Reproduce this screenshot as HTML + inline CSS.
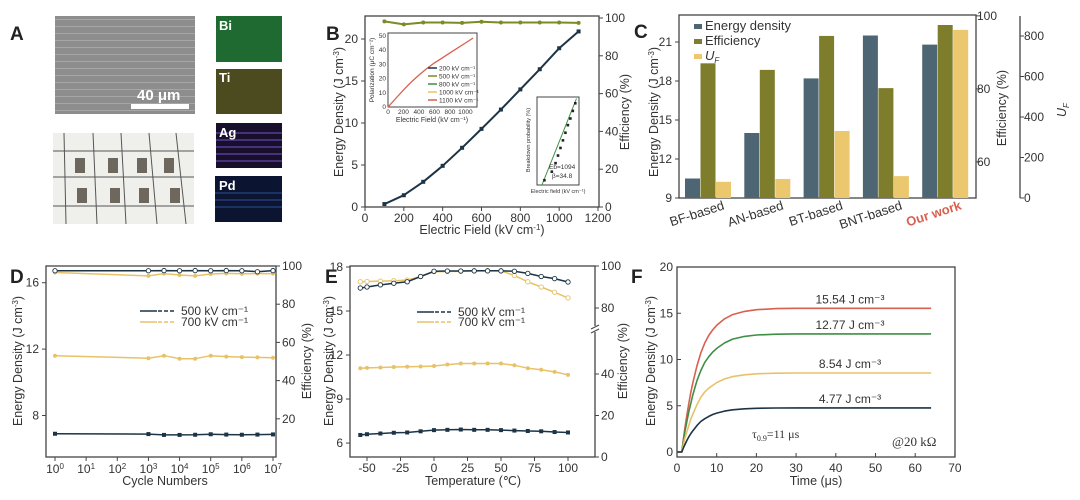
<!DOCTYPE html>
<html><head><meta charset="utf-8">
<style>
html,body{margin:0;padding:0;background:#fff;}
svg{display:block;font-family:"Liberation Sans",sans-serif;}
.at{font-size:12.5px;fill:#333;}
.pl{font-size:19px;font-weight:bold;fill:#222;}
</style></head>
<body>
<svg id="fig" width="1080" height="500" viewBox="0 0 1080 500" xmlns="http://www.w3.org/2000/svg">
<defs>
<pattern id="semlines" width="10" height="7" patternUnits="userSpaceOnUse"><rect width="10" height="7" fill="#8d8d8d"/><rect y="5" width="10" height="1" fill="#a6a6a6"/></pattern>
</defs>
<g>
<text class="pl" x="10" y="40">A</text>
<rect x="55" y="16" width="140" height="98" fill="url(#semlines)"/>
<rect x="131" y="104" width="58" height="5" fill="#fff"/>
<text x="137" y="100" font-size="15" font-weight="bold" fill="#fff">40 μm</text>
<rect x="53" y="133" width="141" height="91" fill="#efefec"/>
<g stroke="#555" stroke-width="1">
<line x1="53" y1="151" x2="194" y2="151"/><line x1="53" y1="177" x2="194" y2="177"/><line x1="53" y1="206" x2="194" y2="206"/>
<line x1="64" y1="133" x2="66" y2="224"/><line x1="93" y1="133" x2="97" y2="224"/><line x1="121" y1="133" x2="126" y2="224"/><line x1="149" y1="133" x2="157" y2="224"/><line x1="176" y1="133" x2="186" y2="224"/>
</g>
<g fill="#6d675e">
<rect x="75" y="158" width="10" height="15"/><rect x="108" y="158" width="10" height="15"/><rect x="137" y="158" width="10" height="15"/><rect x="164" y="158" width="10" height="15"/>
<rect x="77" y="188" width="10" height="15"/><rect x="110" y="188" width="10" height="15"/><rect x="139" y="188" width="10" height="15"/><rect x="170" y="188" width="10" height="15"/>
</g>
<rect x="216" y="16" width="66" height="46" fill="#1f6a30"/>
<rect x="216" y="69" width="66" height="45" fill="#4c4a1f"/>
<rect x="216" y="123" width="66" height="45" fill="#16102a"/>
<g stroke="#7a4fc9" stroke-width="1"><line x1="216" y1="133" x2="282" y2="133"/><line x1="216" y1="140" x2="282" y2="140"/><line x1="216" y1="147" x2="282" y2="147"/><line x1="216" y1="154" x2="282" y2="154"/><line x1="216" y1="161" x2="282" y2="161"/></g>
<rect x="215" y="176" width="67" height="46" fill="#0b1430"/>
<g stroke="#2c4f9a" stroke-width="1"><line x1="215" y1="193" x2="282" y2="193"/><line x1="215" y1="200" x2="282" y2="200"/><line x1="215" y1="207" x2="282" y2="207"/></g>
<g font-size="13" font-weight="bold" fill="#fff"><text x="219" y="30">Bi</text><text x="219" y="82">Ti</text><text x="219" y="137">Ag</text><text x="219" y="190">Pd</text></g>
</g>
<text class="pl" x="326" y="40">B</text>
<text class="pl" x="634" y="38">C</text>
<text class="pl" x="10" y="283">D</text>
<text class="pl" x="325" y="283">E</text>
<text class="pl" x="631" y="283">F</text>

<text class="at" transform="translate(343,112) rotate(-90)" text-anchor="middle">Energy Density (J cm<tspan dy="-4" font-size="8">-3</tspan><tspan dy="4">)</tspan></text>
<text class="at" x="482" y="234" text-anchor="middle">Electric Field (kV cm<tspan dy="-4" font-size="8">-1</tspan><tspan dy="4">)</tspan></text>
<text class="at" transform="translate(629,112) rotate(-90)" text-anchor="middle">Efficiency (%)</text>

<text class="at" transform="translate(658,112) rotate(-90)" text-anchor="middle">Energy Density (J cm<tspan dy="-4" font-size="8">-3</tspan><tspan dy="4">)</tspan></text>
<text class="at" transform="translate(1006,108) rotate(-90)" text-anchor="middle">Efficiency (%)</text>
<text class="at" transform="translate(1066,110) rotate(-90)" text-anchor="middle" font-style="italic">U<tspan font-size="8" dy="3">F</tspan></text>

<text class="at" transform="translate(22,361) rotate(-90)" text-anchor="middle">Energy Density (J cm<tspan dy="-4" font-size="8">-3</tspan><tspan dy="4">)</tspan></text>
<text class="at" x="165" y="485" text-anchor="middle">Cycle Numbers</text>
<text class="at" transform="translate(311,361) rotate(-90)" text-anchor="middle">Efficiency (%)</text>

<text class="at" transform="translate(333,361) rotate(-90)" text-anchor="middle">Energy Density (J cm<tspan dy="-4" font-size="8">-3</tspan><tspan dy="4">)</tspan></text>
<text class="at" x="473" y="485" text-anchor="middle">Temperature (℃)</text>
<text class="at" transform="translate(627,361) rotate(-90)" text-anchor="middle">Efficiency (%)</text>

<text class="at" transform="translate(655,361) rotate(-90)" text-anchor="middle">Energy Density (J cm<tspan dy="-4" font-size="8">-3</tspan><tspan dy="4">)</tspan></text>
<text class="at" x="816" y="485" text-anchor="middle">Time (μs)</text>
<text x="752" y="438" font-family="Liberation Serif,serif" font-size="12" fill="#333">τ<tspan font-size="8" dy="3">0.9</tspan><tspan dy="-3">=11 μs</tspan></text>
<text x="892" y="446" font-family="Liberation Serif,serif" font-size="13" fill="#333">@20 kΩ</text>
</svg>
<script>
const NS='http://www.w3.org/2000/svg';
const svg=document.getElementById('fig');
function mk(tag,attrs,name,parent){
  const el=document.createElementNS(NS,tag);
  for(const k in attrs) el.setAttribute(k,attrs[k]);
  
  
  (parent||svg).appendChild(el);return el;
}
function tx(x,y,s,anchor,name,size,fill){
  const el=mk('text',{x:x,y:y,'text-anchor':anchor,'font-size':size||12,fill:fill||'#333'},name);
  el.textContent=s;return el;
}
function frame(x,y,w,h,name){mk('rect',{x:x,y:y,width:w,height:h,fill:'none',stroke:'#444','stroke-width':1.3},name);}
function line(pts,color,name,w,dash){
  const o={points:pts.map(p=>p[0].toFixed(1)+','+p[1].toFixed(1)).join(' '),fill:'none',stroke:color,'stroke-width':w||1.6,'stroke-linejoin':'round'};
  if(dash) o['stroke-dasharray']=dash;
  return mk('polyline',o,name);
}
function sq(x,y,c,name){mk('rect',{x:x-2,y:y-2,width:4,height:4,fill:c},name);}
function circ(x,y,c,fill,name){mk('circle',{cx:x,cy:y,r:2.2,fill:fill,stroke:c,'stroke-width':0.9},name);}

// ===== Panel B =====
const bField=[100,200,300,400,500,600,700,800,900,1000,1100];
const bEnergy=[0.35,1.4,3.0,4.9,7.05,9.3,11.6,14.0,16.4,18.9,20.9];
const bEff=[98.2,96.6,97.6,97.6,97.4,98.0,97.6,97.6,97.6,97.6,97.4];
const bXTicks=[0,200,400,600,800,1000,1200];
const bYTicks=[0,5,10,15,20];
const bRTicks=[0,20,40,60,80,100];
const xB=v=>365+v/1200*233, yB=v=>207-v*8.4, yBr=v=>207-v*1.89;
frame(365,16,234,191,'b-plot-frame');
bXTicks.forEach(v=>{mk('line',{x1:xB(v),y1:207,x2:xB(v),y2:211,stroke:'#444'},'b-x-tick');tx(xB(v),222,v,'middle','b-x-tick-label');});
bYTicks.forEach(v=>{mk('line',{x1:361,y1:yB(v),x2:365,y2:yB(v),stroke:'#444'},'b-y-tick');tx(358,yB(v)+4,v,'end','b-y-tick-label');});
bRTicks.forEach(v=>{mk('line',{x1:599,y1:yBr(v),x2:603,y2:yBr(v),stroke:'#444'},'b-right-tick');tx(605,yBr(v)+4,v,'start','b-right-tick-label');});
line(bField.map((f,i)=>[xB(f),yB(bEnergy[i])]),'#1c3446','b-energy-line',2);
bField.forEach((f,i)=>sq(xB(f),yB(bEnergy[i]),'#1c3446','b-energy-point'));
line(bField.map((f,i)=>[xB(f),yBr(bEff[i])]),'#7d8a26','b-efficiency-line',2);
bField.forEach((f,i)=>mk('circle',{cx:xB(f),cy:yBr(bEff[i]),r:2,fill:'#7d8a26'},'b-efficiency-point'));
const inPx=[0,100,200,300,400,500,600,700,800,900,1000,1100];
const inP=[0,6,12,17.5,22.5,27,31,34.5,38,41.5,45,48.5];
const inXT=[0,200,400,600,800,1000];
const inYT=[0,10,20,30,40,50];
const xI=v=>388+v/1150*89, yI=v=>107-v/52*74;
mk('rect',{x:388,y:33,width:89,height:74,fill:'#fff',stroke:'#444'},'b-inset-polarization-frame');
inXT.forEach(v=>tx(xI(v),114,v,'middle','b-inset-x-tick-label',6.5));
inYT.forEach(v=>tx(386,yI(v)+2,v,'end','b-inset-y-tick-label',6.5));
tx(432,122,'Electric Field (kV cm⁻¹)','middle','b-inset-x-title',7);
mk('text',{transform:'translate(374,70) rotate(-90)','text-anchor':'middle','font-size':6.5,fill:'#333'},'b-inset-y-title').textContent='Polarization (μC cm⁻²)';
line(inPx.map((x,i)=>[xI(x),yI(inP[i])]),'#d9604f','b-inset-polarization-curve',1.3);
const legN=['200','500','800','1000','1100'];
const legC=['#1c3446','#7d8a26','#3e8f45','#e8c268','#d9604f'];
legN.forEach((n,i)=>{const y=68+i*8;mk('line',{x1:428,y1:y,x2:437,y2:y,stroke:legC[i],'stroke-width':1.5},'b-inset-legend-swatch');tx(439,y+2.5,n+'  kV cm⁻¹','start','b-inset-legend-label',6.5);});
mk('rect',{x:537,y:97,width:42,height:88,fill:'#fff',stroke:'#444'},'b-inset-weibull-frame');
const wbX=[1010,1040,1055,1065,1075,1085,1095,1105,1115,1125,1135];
const wbY=[5,14,23,31,39,47,55,63,70,78,86];
const xW=v=>537+(v-980)/170*42, yW=v=>185-v*0.95;
line([[xW(1000),yW(0)],[xW(1140),yW(91)]],'#3e8f45','b-weibull-fit',1);
wbX.forEach((x,i)=>mk('rect',{x:xW(x)-1.3,y:yW(wbY[i])-1.3,width:2.6,height:2.6,fill:'#222'},'b-weibull-point'));
tx(558,193,'Electric field (kV cm⁻¹)','middle','b-inset2-x-title',5.5);
tx(549,169,'Eb=1094','start','b-weibull-eb',6.5);
tx(552,178,'β=34.8','start','b-weibull-beta',6.5);
mk('text',{transform:'translate(530,140) rotate(-90)','text-anchor':'middle','font-size':5.5,fill:'#333'},'b-inset2-y-title').textContent='Breakdown probability (%)';

// ===== Panel C =====
const cCats=['BF-based','AN-based','BT-based','BNT-based','Our work'];
const cEnergy=[10.5,14.0,18.2,21.5,20.8];
const cEff=[87.0,85.2,94.5,80.2,97.5];
const cUF=[80,94,331,108,830];
const cYT=[9,12,15,18,21], cRT=[60,80,100], cUT=[0,200,400,600,800];
const yC=v=>198-(v-9)*13, yCr=v=>198-(v-50.1)*3.65, yCu=v=>198-v*0.2025;
frame(679,15,297,183,'c-plot-frame');
cYT.forEach(v=>{mk('line',{x1:675,y1:yC(v),x2:679,y2:yC(v),stroke:'#444'},'c-y-tick');tx(672,yC(v)+4,v,'end','c-y-tick-label');});
cRT.forEach(v=>{mk('line',{x1:976,y1:yCr(v),x2:980,y2:yCr(v),stroke:'#444'},'c-right-tick');tx(977,yCr(v)+4,v,'start','c-right-tick-label');});
mk('line',{x1:1020,y1:16,x2:1020,y2:198,stroke:'#444','stroke-width':1.3},'c-uf-axis-line');
cUT.forEach(v=>{mk('line',{x1:1020,y1:yCu(v),x2:1024,y2:yCu(v),stroke:'#444'},'c-uf-tick');tx(1024,yCu(v)+4,v,'start','c-uf-tick-label');});
cCats.forEach((c,i)=>{
  const g0=685+i*59.3;
  mk('rect',{x:g0,y:yC(cEnergy[i]),width:15,height:198-yC(cEnergy[i]),fill:'#4e6674'},'c-bar-energy');
  mk('rect',{x:g0+15.5,y:yCr(cEff[i]),width:15,height:198-yCr(cEff[i]),fill:'#7d7d2c'},'c-bar-efficiency');
  mk('rect',{x:g0+31,y:yCu(cUF[i]),width:15,height:198-yCu(cUF[i]),fill:'#ebc76e'},'c-bar-uf');
  const t=mk('text',{transform:'translate('+(g0+40)+',209) rotate(-18)','text-anchor':'end','font-size':13,fill:i==4?'#d9604f':'#333','font-weight':i==4?'bold':'normal'},'c-category-label');
  t.textContent=c;
});
const cLeg=['Energy density','Efficiency','U'];
const cLegC=['#4e6674','#7d7d2c','#ebc76e'];
cLeg.forEach((n,i)=>{const y=25+i*15;mk('rect',{x:694,y:y-1,width:8,height:5,fill:cLegC[i]},'c-legend-swatch');
 const t=tx(705,y+5,n,'start','c-legend-label',13);if(i==2){t.setAttribute('font-style','italic');const s=document.createElementNS(NS,'tspan');s.setAttribute('font-size','8');s.setAttribute('dy','3');s.textContent='F';t.appendChild(s);}});

// ===== Panel D =====
const dCycles=[0,3,3.5,4,4.5,5,5.5,6,6.5,7];
const dE500=[6.9,6.88,6.83,6.83,6.84,6.87,6.85,6.84,6.85,6.86];
const dE700=[11.6,11.45,11.6,11.42,11.42,11.6,11.55,11.52,11.5,11.48];
const dEff500=[97.5,97.5,97.6,97.5,97.6,97.5,97.6,97.5,97.0,97.6];
const dEff700=[96.6,94.8,96.0,95.3,94.8,95.8,96.1,95.9,96.0,96.0];
const dYT=[8,12,16], dRT=[20,40,60,80,100], dXT=[0,1,2,3,4,5,6,7];
const xD=v=>55+v/7*218, yD=v=>457-(v-5.5)*16.6, yDr=v=>457-v*1.91;
frame(46,266,230,191,'d-plot-frame');
dYT.forEach(v=>{mk('line',{x1:42,y1:yD(v),x2:46,y2:yD(v),stroke:'#444'},'d-y-tick');tx(39,yD(v)+4,v,'end','d-y-tick-label');});
dRT.forEach(v=>{mk('line',{x1:276,y1:yDr(v),x2:280,y2:yDr(v),stroke:'#444'},'d-right-tick');tx(282,yDr(v)+4,v,'start','d-right-tick-label');});
dXT.forEach(v=>{mk('line',{x1:xD(v),y1:457,x2:xD(v),y2:461,stroke:'#444'},'d-x-tick');const t=tx(xD(v),473,'10','middle','d-x-tick-label');const s=document.createElementNS(NS,'tspan');s.setAttribute('font-size','8');s.setAttribute('dy','-4');s.textContent=v;t.appendChild(s);});
line(dCycles.map((c,i)=>[xD(c),yDr(dEff700[i])]),'#e8c268','d-eff-700-line',1.5);
dCycles.forEach((c,i)=>mk('circle',{cx:xD(c),cy:yDr(dEff700[i]),r:2,fill:'#e8c268'},'d-eff-700-point'));
line(dCycles.map((c,i)=>[xD(c),yDr(dEff500[i])]),'#1c3446','d-eff-500-line',1.5);
dCycles.forEach((c,i)=>circ(xD(c),yDr(dEff500[i]),'#1c3446','#fff','d-eff-500-point'));
line(dCycles.map((c,i)=>[xD(c),yD(dE700[i])]),'#e8c268','d-energy-700-line',1.5);
dCycles.forEach((c,i)=>mk('circle',{cx:xD(c),cy:yD(dE700[i]),r:2,fill:'#e8c268'},'d-energy-700-point'));
line(dCycles.map((c,i)=>[xD(c),yD(dE500[i])]),'#1c3446','d-energy-500-line',1.5);
dCycles.forEach((c,i)=>sq(xD(c),yD(dE500[i]),'#1c3446','d-energy-500-point'));
function legend(x,y,c,name,label){
  mk('line',{x1:x,y1:y,x2:x+17,y2:y,stroke:c,'stroke-width':1.5},name+'-solid');
  mk('line',{x1:x+18,y1:y,x2:x+36,y2:y,stroke:c,'stroke-width':1.5,'stroke-dasharray':'4,2'},name+'-dashed');
  tx(x+41,y+4,label,'start',name+'-label',12);
}
legend(140,311,'#1c3446','d-legend-500','500 kV cm⁻¹');
legend(140,322,'#e8c268','d-legend-700','700 kV cm⁻¹');

// ===== Panel E =====
const eTemp=[-55,-50,-40,-30,-20,-10,0,10,20,30,40,50,60,70,80,90,100];
const eE500=[6.55,6.6,6.65,6.7,6.72,6.8,6.88,6.9,6.92,6.9,6.9,6.88,6.85,6.82,6.8,6.75,6.72];
const eE700=[11.1,11.12,11.15,11.18,11.2,11.22,11.25,11.35,11.42,11.42,11.42,11.42,11.3,11.1,11.0,10.85,10.65];
const eEff500=[89.5,90,91,91.8,92.5,95,97.5,97.6,97.6,97.7,97.7,97.7,97.5,96.5,95,94,92.4];
const eEff700=[92.5,92.6,92.8,93,93.3,95,97.3,97.4,97.5,97.6,97.7,97.6,95.5,92.5,90,87.5,84.8];
const eYT=[6,9,12,15,18], eXT=[-50,-25,0,25,50,75,100], eRT=[0,20,40,80,100];
const xE=v=>434+v*1.34, yE=v=>267+(18-v)*14.67, yEr=v=>v>=60?308-(v-80)*2.1:457-v*2.075;
frame(350,266,245,191,'e-plot-frame');
eYT.forEach(v=>{mk('line',{x1:346,y1:yE(v),x2:350,y2:yE(v),stroke:'#444'},'e-y-tick');tx(343,yE(v)+4,v,'end','e-y-tick-label');});
eXT.forEach(v=>{mk('line',{x1:xE(v),y1:457,x2:xE(v),y2:461,stroke:'#444'},'e-x-tick');tx(xE(v),472,v,'middle','e-x-tick-label');});
eRT.forEach(v=>{mk('line',{x1:595,y1:yEr(v),x2:599,y2:yEr(v),stroke:'#444'},'e-right-tick');tx(601,yEr(v)+4,v,'start','e-right-tick-label');});
mk('rect',{x:591,y:326,width:8,height:6,fill:'#fff'},'e-axis-break-gap');
mk('line',{x1:591,y1:329,x2:599,y2:325,stroke:'#444'},'e-axis-break-mark');
mk('line',{x1:591,y1:333,x2:599,y2:329,stroke:'#444'},'e-axis-break-mark');
line(eTemp.map((t,i)=>[xE(t),yEr(eEff700[i])]),'#e8c268','e-eff-700-line',1.5);
eTemp.forEach((t,i)=>circ(xE(t),yEr(eEff700[i]),'#e8c268','#fff','e-eff-700-point'));
line(eTemp.map((t,i)=>[xE(t),yEr(eEff500[i])]),'#1c3446','e-eff-500-line',1.5);
eTemp.forEach((t,i)=>circ(xE(t),yEr(eEff500[i]),'#1c3446','#fff','e-eff-500-point'));
line(eTemp.map((t,i)=>[xE(t),yE(eE700[i])]),'#e8c268','e-energy-700-line',1.5);
eTemp.forEach((t,i)=>mk('circle',{cx:xE(t),cy:yE(eE700[i]),r:2,fill:'#e8c268'},'e-energy-700-point'));
line(eTemp.map((t,i)=>[xE(t),yE(eE500[i])]),'#1c3446','e-energy-500-line',1.5);
eTemp.forEach((t,i)=>sq(xE(t),yE(eE500[i]),'#1c3446','e-energy-500-point'));
legend(417,312,'#1c3446','e-legend-500','500 kV cm⁻¹');
legend(417,322,'#e8c268','e-legend-700','700 kV cm⁻¹');

// ===== Panel F =====
const fTime=[0,1.2,1.6,2,2.5,3,3.5,4,5,6,7,8,9,10,12,14,17,20,25,30,40,64];
const fS1=[0,0,1.4,2.6,4.0,5.3,6.5,7.5,9.3,10.7,11.8,12.6,13.2,13.7,14.4,14.85,15.2,15.38,15.5,15.54,15.54,15.54];
const fS2=[0,0,1.2,2.2,3.3,4.4,5.3,6.2,7.7,8.8,9.7,10.3,10.8,11.2,11.8,12.2,12.5,12.65,12.74,12.77,12.77,12.77];
const fS3=[0,0,0.8,1.5,2.2,2.9,3.6,4.1,5.1,5.9,6.5,6.9,7.2,7.5,7.9,8.15,8.35,8.45,8.52,8.54,8.54,8.54];
const fS4=[0,0,0.45,0.8,1.25,1.65,2.0,2.3,2.85,3.3,3.6,3.85,4.05,4.2,4.42,4.56,4.67,4.72,4.76,4.77,4.77,4.77];
const fLabels=['15.54 J cm⁻³','12.77 J cm⁻³','8.54 J cm⁻³','4.77 J cm⁻³'];
const fXT=[0,10,20,30,40,50,60,70], fYT=[0,5,10,15,20];
const xF=v=>677+v*3.97, yF=v=>452-v*9.25;
frame(677,267,278,190,'f-plot-frame');
fXT.forEach(v=>{mk('line',{x1:xF(v),y1:457,x2:xF(v),y2:453,stroke:'#444'},'f-x-tick');tx(xF(v),472,v,'middle','f-x-tick-label');});
fYT.forEach(v=>{mk('line',{x1:677,y1:yF(v),x2:681,y2:yF(v),stroke:'#444'},'f-y-tick');tx(673,yF(v)+4,v,'end','f-y-tick-label');});
const fSeries=[fS1,fS2,fS3,fS4], fCol=['#d9604f','#3e8f45','#e8c268','#1c3446'];
fSeries.forEach((s,k)=>{
  line(fTime.map((t,i)=>[xF(t),yF(s[i])]),fCol[k],'f-curve-'+(k+1),1.6);
  tx(850,yF(s[s.length-1])-5,fLabels[k],'middle','f-curve-label',12);
});
</script>
</body></html>
